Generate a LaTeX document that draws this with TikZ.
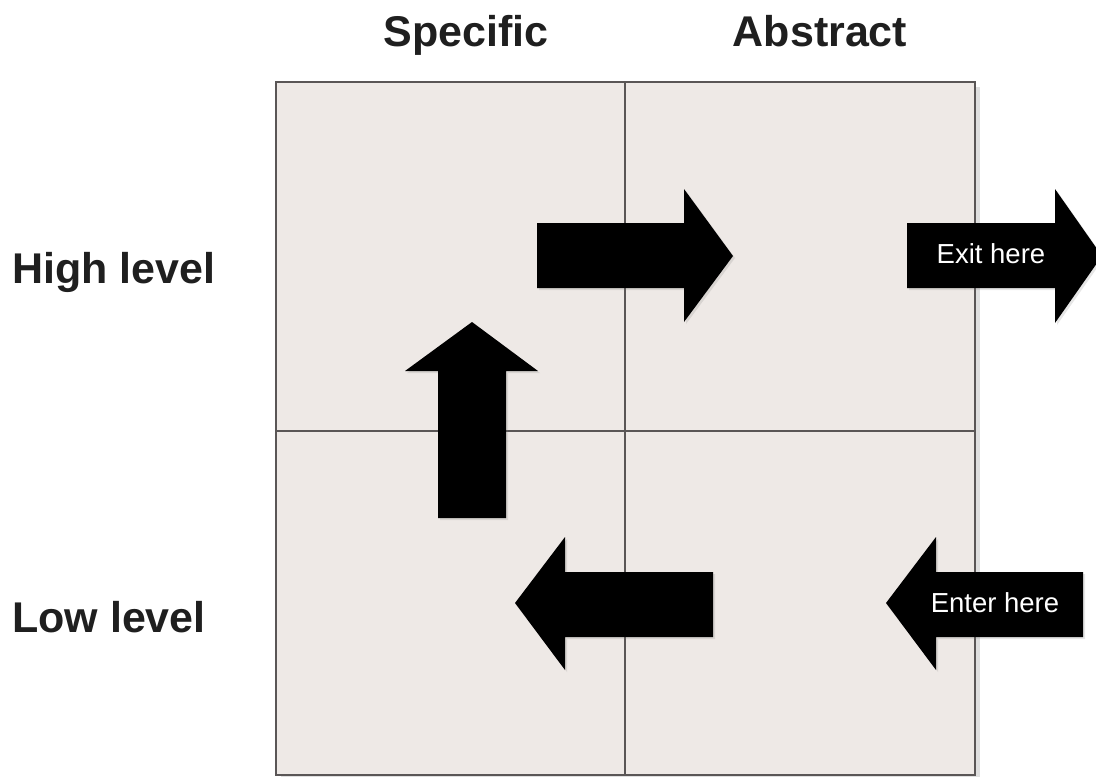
\documentclass[tikz,border=0pt]{standalone}
\usepackage{fontspec}
\setmainfont{Liberation Sans}
\usetikzlibrary{shadows}
\definecolor{cellfill}{HTML}{EEE9E6}
\definecolor{gridline}{HTML}{5A5656}

\begin{document}
\begin{tikzpicture}[x=1pt,y=-1pt,
  axislabel/.style={font=\fontsize{43}{50}\selectfont\bfseries,text=black!88,inner sep=0pt},
  arrowlabel/.style={font=\fontsize{27.5}{32}\selectfont,text=white,inner sep=0pt},
  blockarrow/.style={fill=black,drop shadow={shadow xshift=2pt,shadow yshift=-2pt,opacity=0.2}}]
\useasboundingbox (0,0) rectangle (1096,777);
% grid of four cells
\filldraw[fill=cellfill,draw=gridline,line width=2.8pt,
  drop shadow={shadow xshift=5pt,shadow yshift=-5pt,opacity=0.25}] (276,82) rectangle (975,775);
\draw[gridline,line width=1.5pt] (625,82) -- (625,775);
\draw[gridline,line width=1.5pt] (276,431) -- (975,431);
% block arrows
\fill[blockarrow] (537,223) -- (684,223) -- (684,189) -- (733,256) -- (684,322) -- (684,288) -- (537,288) -- cycle;
\fill[blockarrow] (907,223) -- (1055,223) -- (1055,189) -- (1102,256) -- (1055,323) -- (1055,288) -- (907,288) -- cycle;
\fill[blockarrow] (438,518) -- (438,371) -- (405,371) -- (472,322) -- (538,371) -- (506,371) -- (506,518) -- cycle;
\fill[blockarrow] (713,572) -- (565,572) -- (565,537) -- (515,603) -- (565,670) -- (565,637) -- (713,637) -- cycle;
\fill[blockarrow] (1083,572) -- (936,572) -- (936,537) -- (886,603) -- (936,670) -- (936,637) -- (1083,637) -- cycle;
% labels
\node[axislabel,anchor=base] (0) at (466,46) {Specific};
\node[axislabel,anchor=base] (1) at (820,46) {Abstract};
\node[axislabel,anchor=base west] (2) at (12,283) {High level};
\node[axislabel,anchor=base west] (3) at (12,632) {Low level};
\node[arrowlabel,anchor=base] (4) at (991,263) {Exit here};
\node[arrowlabel,anchor=base] (5) at (995,612) {Enter here};
\end{tikzpicture}
\end{document}
